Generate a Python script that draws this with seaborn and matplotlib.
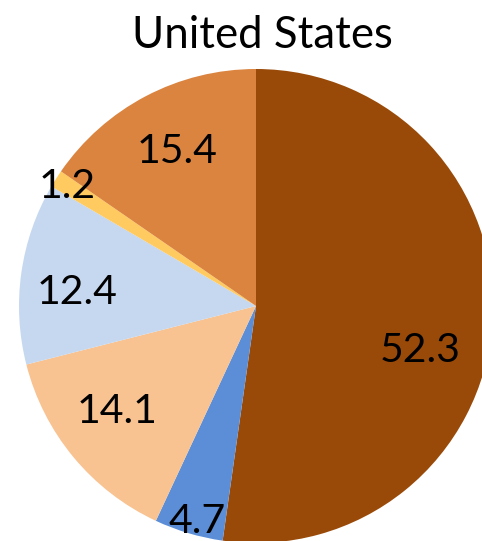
import matplotlib
matplotlib.use("Agg")
import matplotlib.pyplot as plt
import seaborn as sns

# Data
categories = ["A", "B", "C", "D", "E", "F"]
values = [52.3, 4.7, 14.1, 12.4, 1.2, 15.4]
labels = ["52.3", "4.7", "14.1", "12.4", "1.2", "15.4"]
colors = ["#9A4A08", "#5B8ED6", "#F8C291", "#C6D8F0", "#FFCA5F", "#DA843F"]
title = "United States"

# Layout (label positions in axes data units, pie radius = 1)
label_pos = [(0.692, -0.186), (-0.249, -0.911), (-0.586, -0.447),
             (-0.755, 0.059), (-0.797, 0.506), (-0.333, 0.650)]

sns.set_theme(style="white")
plt.rcParams['font.family'] = ['Lato', 'DejaVu Sans']

W, H = 482, 541
fig = plt.figure(figsize=(W / 100, H / 100), dpi=100)
cx, cy, r = 256, 306, 237
ax = fig.add_axes([(cx - r) / W, (H - cy - r) / H, 2 * r / W, 2 * r / H])
ax.pie(values, colors=colors, startangle=90, counterclock=False,
       wedgeprops=dict(linewidth=0))
ax.set_xlim(-1, 1)
ax.set_ylim(-1, 1)
ax.set_aspect('auto')
ax.axis('off')
for lab, (x, y) in zip(labels, label_pos):
    ax.text(x, y, lab, ha='center', va='center', fontsize=29.5, color='black')

fig.text(262 / W, 1 - 35 / H, title, ha='center', va='center', fontsize=31.5, color='black')
fig.savefig("out.png", dpi=100)
